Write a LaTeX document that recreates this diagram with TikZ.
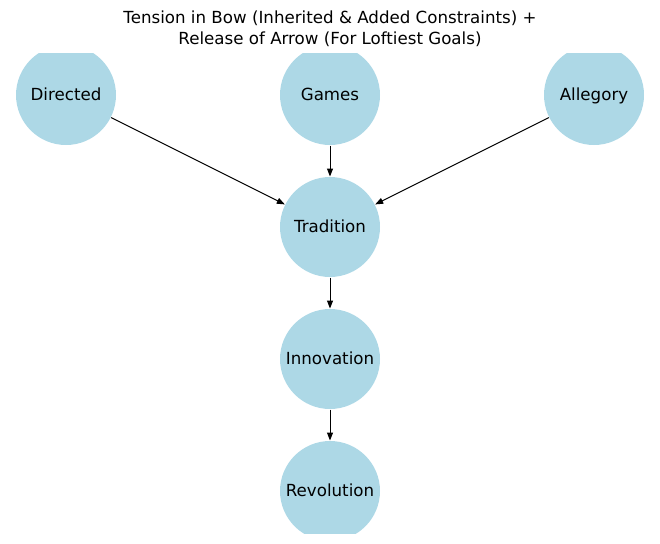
\documentclass[tikz,border=0pt]{standalone}
\usepackage{fontspec}
\setmainfont{DejaVu Sans}
\usetikzlibrary{arrows.meta}

\definecolor{nodeblue}{RGB}{173,216,230}

\tikzset{every picture/.style={line width=0.75pt}}
\tikzset{
  bownode/.style={circle, fill=nodeblue, minimum size=75pt, inner sep=0pt, text height=9.9pt, text depth=2.1pt, font=\fontsize{12.5}{15}\selectfont},
  arrowline/.style={-{Triangle[length=6pt,width=4.5pt]}, line width=0.75pt}
}

\begin{document}
\begin{tikzpicture}[x=0.75pt,y=0.75pt,yscale=-1,xscale=1]
\useasboundingbox (0,0) rectangle (660,543);

% Axes area clip
\begin{scope}
\clip (0,53) rectangle (660,533);
%Shape: Circle 
\node [bownode] (directed) at (66,95) {Directed};
%Shape: Circle 
\node [bownode] (games) at (330,95) {Games};
%Shape: Circle 
\node [bownode] (allegory) at (594,95) {Allegory};
%Shape: Circle 
\node [bownode] (tradition) at (330,227) {Tradition};
%Shape: Circle 
\node [bownode] (innovation) at (330,359) {Innovation};
%Shape: Circle 
\node [bownode] (revolution) at (330,491) {Revolution};
\end{scope}

% Edges
\draw [arrowline] (directed) -- (tradition);
\draw [arrowline] (games) -- (tradition);
\draw [arrowline] (allegory) -- (tradition);
\draw [arrowline] (tradition) -- (innovation);
\draw [arrowline] (innovation) -- (revolution);

% Text Node
\node [align=center, font=\fontsize{12.5}{15.75}\selectfont] (title) at (330,28.5) {Tension in Bow (Inherited \& Added Constraints) +\\Release of Arrow (For Loftiest Goals)};

\end{tikzpicture}
\end{document}
